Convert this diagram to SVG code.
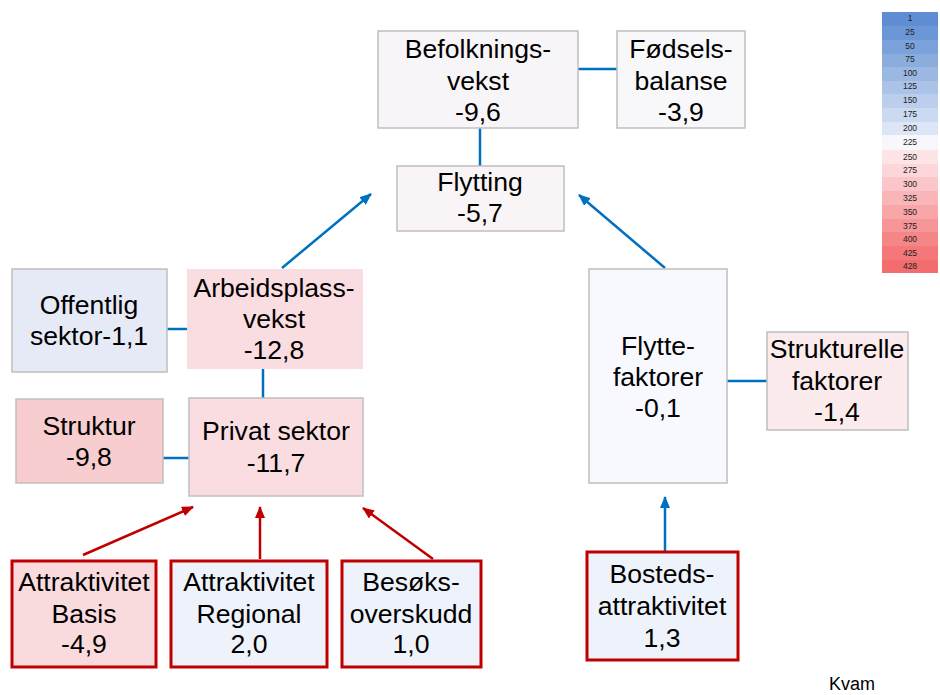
<svg xmlns="http://www.w3.org/2000/svg" width="940" height="695" viewBox="0 0 940 695">
<defs>
<style>
text{font-family:"Liberation Sans",Arial,sans-serif;fill:#000}
.t{font-size:26.6px;text-anchor:middle}
.lg{font-size:8.5px;text-anchor:middle;fill:#222}
.g{stroke:#bfbfbf;stroke-width:1.5}
.r{stroke:#c00000;stroke-width:3}
.bl{stroke:#0070c0;stroke-width:2.5;fill:none}
.rd{stroke:#c00000;stroke-width:2.5;fill:none}
</style>
<marker id="ab" markerUnits="userSpaceOnUse" markerWidth="12" markerHeight="10" refX="11" refY="5" orient="auto"><path d="M0,0 L12,5 L0,10 z" fill="#0070c0"/></marker>
<marker id="ar" markerUnits="userSpaceOnUse" markerWidth="12" markerHeight="10" refX="11" refY="5" orient="auto"><path d="M0,0 L12,5 L0,10 z" fill="#c00000"/></marker>
</defs>
<rect width="940" height="695" fill="#fff"/>

<g id="legend">
<rect x="882" y="12" width="56" height="14" fill="#5f8dd3"/>
<rect x="882" y="26" width="56" height="14" fill="#6c97d7"/>
<rect x="882" y="40" width="56" height="14" fill="#7ba2db"/>
<rect x="882" y="54" width="56" height="13" fill="#8badde"/>
<rect x="882" y="67" width="56" height="14" fill="#9bb8e3"/>
<rect x="882" y="81" width="56" height="13" fill="#abc3e8"/>
<rect x="882" y="94" width="56" height="14" fill="#bbceec"/>
<rect x="882" y="108" width="56" height="14" fill="#cbd9f1"/>
<rect x="882" y="122" width="56" height="13" fill="#dde6f6"/>
<rect x="882" y="135" width="56" height="15" fill="#f8f8fc"/>
<rect x="882" y="150" width="56" height="14" fill="#fde5e7"/>
<rect x="882" y="164" width="56" height="13" fill="#fcd6d8"/>
<rect x="882" y="177" width="56" height="14" fill="#fbc6c9"/>
<rect x="882" y="191" width="56" height="14" fill="#f9b6b8"/>
<rect x="882" y="205" width="56" height="14" fill="#f8a6a8"/>
<rect x="882" y="219" width="56" height="13" fill="#f79698"/>
<rect x="882" y="232" width="56" height="14" fill="#f58688"/>
<rect x="882" y="246" width="56" height="14" fill="#f47779"/>
<rect x="882" y="260" width="56" height="13" fill="#f36c6e"/>
<text class="lg" x="910" y="21">1</text>
<text class="lg" x="910" y="35">25</text>
<text class="lg" x="910" y="49">50</text>
<text class="lg" x="910" y="62">75</text>
<text class="lg" x="910" y="76">100</text>
<text class="lg" x="910" y="89">125</text>
<text class="lg" x="910" y="103">150</text>
<text class="lg" x="910" y="117">175</text>
<text class="lg" x="910" y="131">200</text>
<text class="lg" x="910" y="145">225</text>
<text class="lg" x="910" y="160">250</text>
<text class="lg" x="910" y="173">275</text>
<text class="lg" x="910" y="187">300</text>
<text class="lg" x="910" y="201">325</text>
<text class="lg" x="910" y="215">350</text>
<text class="lg" x="910" y="229">375</text>
<text class="lg" x="910" y="242">400</text>
<text class="lg" x="910" y="256">425</text>
<text class="lg" x="910" y="269">428</text>
</g>

<g id="connectors">
<line class="bl" x1="578" y1="69" x2="617" y2="69"/>
<line class="bl" x1="480" y1="128" x2="480" y2="166"/>
<line class="bl" x1="167" y1="329" x2="187" y2="329"/>
<line class="bl" x1="263" y1="369" x2="263" y2="398"/>
<line class="bl" x1="163" y1="458" x2="189" y2="458"/>
<line class="bl" x1="727" y1="381" x2="767" y2="381"/>
<line class="bl" x1="282" y1="268" x2="371" y2="194" marker-end="url(#ab)"/>
<line class="bl" x1="665" y1="268" x2="579" y2="195" marker-end="url(#ab)"/>
<line class="bl" x1="665" y1="551" x2="665" y2="497" marker-end="url(#ab)"/>
<line class="rd" x1="83" y1="555" x2="193" y2="507" marker-end="url(#ar)"/>
<line class="rd" x1="260" y1="559" x2="260" y2="507" marker-end="url(#ar)"/>
<line class="rd" x1="433" y1="559" x2="363" y2="508" marker-end="url(#ar)"/>
</g>

<g id="befolkningsvekst">
<rect class="g" x="378" y="31" width="200" height="97" fill="#f8f5f8"/>
<text class="t" x="478" y="58">Befolknings-</text>
<text class="t" x="478" y="90">vekst</text>
<text class="t" x="478" y="121">-9,6</text>
</g>
<g id="fodselsbalanse">
<rect class="g" x="617" y="31" width="128" height="97" fill="#f8f7fa"/>
<text class="t" x="681" y="58">Fødsels-</text>
<text class="t" x="681" y="90">balanse</text>
<text class="t" x="681" y="121">-3,9</text>
</g>
<g id="flytting">
<rect class="g" x="397" y="166" width="167" height="65" fill="#f9f5f6"/>
<text class="t" x="480" y="191">Flytting</text>
<text class="t" x="480" y="222">-5,7</text>
</g>
<g id="offentlig">
<rect class="g" x="12" y="269" width="155" height="103" fill="#e5eaf6"/>
<text class="t" x="89" y="314">Offentlig</text>
<text class="t" x="89" y="345">sektor-1,1</text>
</g>
<g id="arbeidsplassvekst">
<rect x="187" y="269" width="176" height="100" fill="#fadde0"/>
<text class="t" x="274" y="297">Arbeidsplass-</text>
<text class="t" x="274" y="328">vekst</text>
<text class="t" x="274" y="359">-12,8</text>
</g>
<g id="struktur">
<rect class="g" x="16" y="399" width="147" height="84" fill="#f7cdd0"/>
<text class="t" x="89" y="435">Struktur</text>
<text class="t" x="89" y="466">-9,8</text>
</g>
<g id="privat">
<rect class="g" x="189" y="398" width="174" height="98" fill="#fadde0"/>
<text class="t" x="276" y="440">Privat sektor</text>
<text class="t" x="276" y="472">-11,7</text>
</g>
<g id="flyttefaktorer">
<rect class="g" x="589" y="269" width="138" height="214" fill="#f8f9fe"/>
<text class="t" x="658" y="355">Flytte-</text>
<text class="t" x="658" y="386">faktorer</text>
<text class="t" x="658" y="417">-0,1</text>
</g>
<g id="strukturelle">
<rect class="g" x="767" y="332" width="141" height="98" fill="#fbebed"/>
<text class="t" x="837" y="358">Strukturelle</text>
<text class="t" x="837" y="390">faktorer</text>
<text class="t" x="837" y="421">-1,4</text>
</g>
<g id="attr-basis">
<rect class="r" x="12" y="561" width="144" height="106" fill="#f9dadd"/>
<text class="t" x="84" y="591">Attraktivitet</text>
<text class="t" x="84" y="623">Basis</text>
<text class="t" x="84" y="653">-4,9</text>
</g>
<g id="attr-regional">
<rect class="r" x="171" y="561" width="156" height="106" fill="#eef2fa"/>
<text class="t" x="249" y="591">Attraktivitet</text>
<text class="t" x="249" y="623">Regional</text>
<text class="t" x="249" y="653">2,0</text>
</g>
<g id="besoksoverskudd">
<rect class="r" x="342" y="561" width="139" height="106" fill="#eef2fa"/>
<text class="t" x="411" y="591">Besøks-</text>
<text class="t" x="411" y="623">overskudd</text>
<text class="t" x="411" y="653">1,0</text>
</g>
<g id="bostedsattraktivitet">
<rect class="r" x="587" y="552" width="151" height="108" fill="#eef2fa"/>
<text class="t" x="662" y="583">Bosteds-</text>
<text class="t" x="662" y="615">attraktivitet</text>
<text class="t" x="662" y="647">1,3</text>
</g>
<text x="829" y="690" font-size="18">Kvam</text>
</svg>
